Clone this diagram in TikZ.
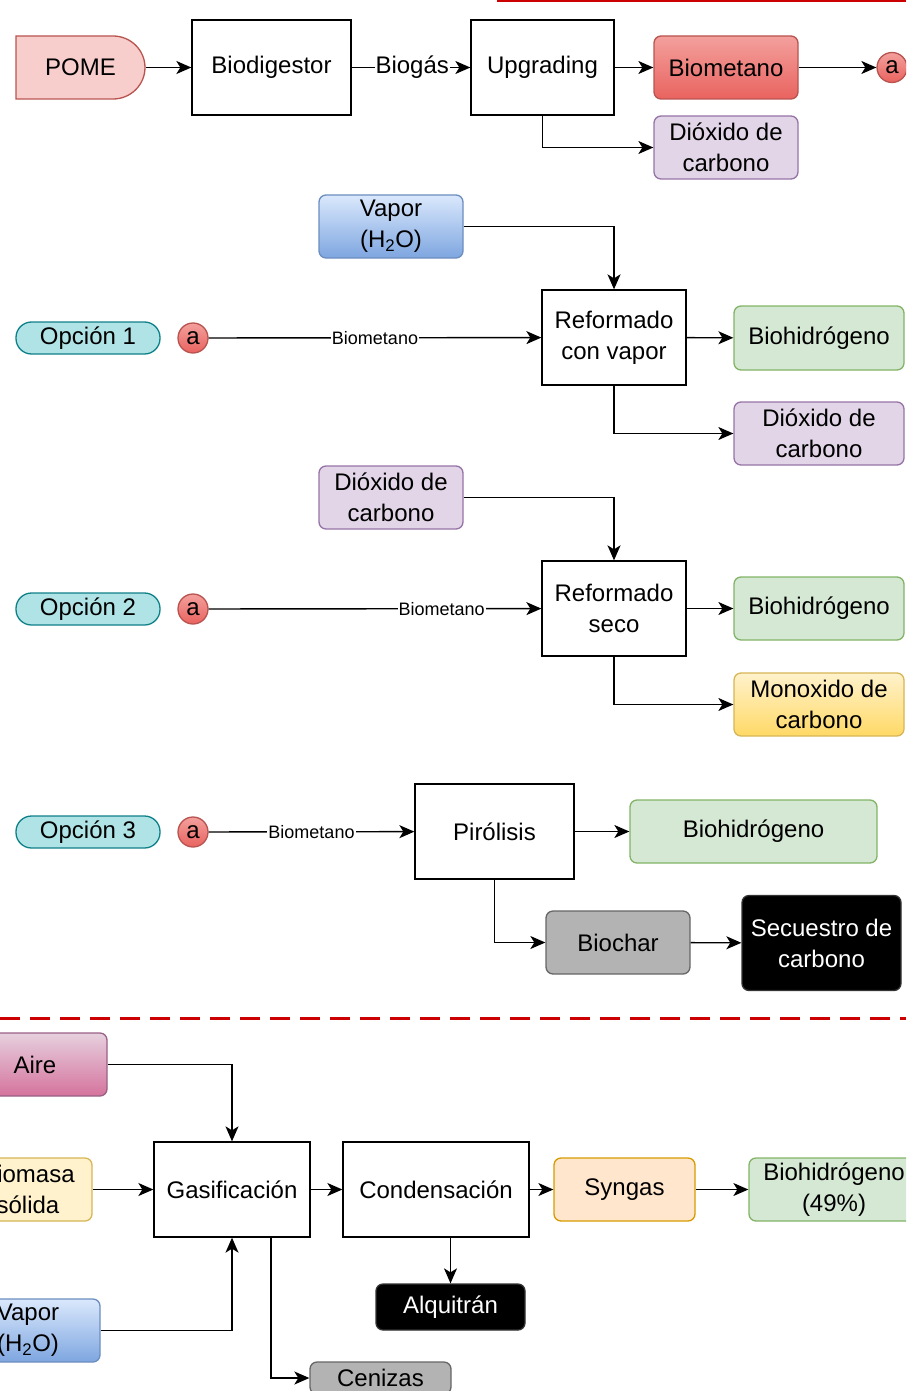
\documentclass[tikz,border=0pt]{standalone}
\usepackage{fontspec}
\setmainfont{Liberation Sans}
\usetikzlibrary{arrows.meta,calc}
\definecolor{pinkF}{HTML}{F8CECC}\definecolor{pinkS}{HTML}{B85450}
\definecolor{redT}{HTML}{F3A09D}\definecolor{redB}{HTML}{E9635F}
\definecolor{purF}{HTML}{E1D5E7}\definecolor{purS}{HTML}{9673A6}
\definecolor{bluT}{HTML}{DAE8FC}\definecolor{bluB}{HTML}{7EA6E0}\definecolor{bluS}{HTML}{6C8EBF}
\definecolor{tealF}{HTML}{B0E3E6}\definecolor{tealS}{HTML}{0E8088}
\definecolor{grnF}{HTML}{D5E8D4}\definecolor{grnS}{HTML}{82B366}
\definecolor{yelF}{HTML}{FFF2CC}\definecolor{yelB}{HTML}{FFD966}\definecolor{yelS}{HTML}{D6B656}
\definecolor{grayF}{HTML}{B3B3B3}\definecolor{grayS}{HTML}{666666}
\definecolor{oraF}{HTML}{FFE6CC}\definecolor{oraS}{HTML}{D79B00}
\definecolor{airT}{HTML}{E6D0DE}\definecolor{airB}{HTML}{D5739D}\definecolor{airS}{HTML}{996185}
\definecolor{lineR}{HTML}{CC0000}
\tikzset{
  base/.style={draw, line width=1.3pt, font=\fontsize{24}{31}\selectfont, align=center, inner sep=0pt},
  proc/.style={base, fill=white, draw=black},
  rbox/.style={base, rounded corners=7pt},
  pill/.style={base, rounded corners=15.5pt, fill=tealF, draw=tealS, minimum width=144, minimum height=32},
  acirc/.style={base, circle, minimum size=30, top color=redT, bottom color=redB, draw=pinkS},
  arr/.style={draw, line width=1.4pt, -{Stealth[length=15pt,width=13pt,inset=4pt]}},
  lbl/.style={fill=white, inner sep=1pt, font=\fontsize{18}{20}\selectfont},
  lblb/.style={fill=white, inner sep=1pt, font=\fontsize{24}{28}\selectfont},
  redline/.style={draw=lineR, line width=3pt}
}
\begin{document}
\begin{tikzpicture}[x=1pt,y=-1pt]
\clip (0,0) rectangle (906,1391);
% top red line
\draw[redline] (497,1) -- (906,1);
% ---- Row 0
\draw[line width=1.3pt, draw=pinkS, fill=pinkF] (16,36) -- (113,36) to[out=0,in=90] (145,67.5) to[out=-90,in=0] (113,99) -- (16,99) -- cycle;
\node[base, draw=none, minimum width=129, minimum height=63] (pome) at (80.5,67.5) {POME};
\node[proc, minimum width=159, minimum height=95] (biodig) at (271.5,67.5) {Biodigestor};
\node[proc, minimum width=143, minimum height=95] (upg) at (542.5,67.5) {Upgrading};
\node[rbox, minimum width=144, minimum height=63, top color=redT, bottom color=redB, draw=pinkS] (biomet) at (726,67.5) {Biometano};
\node[acirc] (a0) at (892,67.5) {a};
\node[rbox, minimum width=144, minimum height=63, fill=purF, draw=purS] (dio1) at (726,147.5) {Dióxido de\\carbono};
\draw[arr] (pome) -- (biodig);
\draw[arr] (biodig) -- node[lblb, pos=0.51] {Biogás} (upg);
\draw[arr] (upg) -- (biomet);
\draw[arr] (biomet) -- (a0);
\draw[arr] (upg.south) |- (dio1.west);
% ---- Option 1
\node[rbox, minimum width=144, minimum height=63, top color=bluT, bottom color=bluB, draw=bluS] (vap1) at (391,226.5) {Vapor\\(H\textsubscript{2}O)};
\node[pill] (op1) at (88,338) {Opción 1};
\node[acirc] (a1) at (193,338) {a};
\node[proc, minimum width=144, minimum height=95] (ref1) at (614,337.5) {Reformado\\con vapor};
\node[rbox, minimum width=170, minimum height=64, fill=grnF, draw=grnS] (bh1) at (819,338) {Biohidrógeno};
\node[rbox, minimum width=170, minimum height=63, fill=purF, draw=purS] (dio2) at (819,433.5) {Dióxido de\\carbono};
\draw[arr] (vap1.east) -| (ref1.north);
\draw[arr] (a1) -- node[lbl, pos=0.5] {Biometano} (ref1);
\draw[arr] (ref1) -- (bh1);
\draw[arr] (ref1.south) |- (dio2.west);
% ---- Option 2
\node[rbox, minimum width=144, minimum height=63, fill=purF, draw=purS] (dio3) at (391,497.5) {Dióxido de\\carbono};
\node[pill] (op2) at (88,609) {Opción 2};
\node[acirc] (a2) at (193,609) {a};
\node[proc, minimum width=144, minimum height=95] (ref2) at (614,608.5) {Reformado\\seco};
\node[rbox, minimum width=170, minimum height=63, fill=grnF, draw=grnS] (bh2) at (819,608.5) {Biohidrógeno};
\node[rbox, minimum width=170, minimum height=63, top color=yelF, bottom color=yelB, draw=yelS] (mono) at (819,704.5) {Monoxido de\\carbono};
\draw[arr] (dio3.east) -| (ref2.north);
\draw[arr] (a2) -- node[lbl, pos=0.70] {Biometano} (ref2);
\draw[arr] (ref2) -- (bh2);
\draw[arr] (ref2.south) |- (mono.west);
% ---- Option 3
\node[pill] (op3) at (88,832) {Opción 3};
\node[acirc] (a3) at (193,832) {a};
\node[proc, minimum width=159, minimum height=95] (pir) at (494.5,831.5) {Pirólisis};
\node[rbox, minimum width=247, minimum height=63, fill=grnF, draw=grnS] (bh3) at (753.5,831.5) {Biohidrógeno};
\node[rbox, minimum width=144, minimum height=63, fill=grayF, draw=grayS] (biochar) at (618,942.5) {Biochar};
\node[rbox, minimum width=159, minimum height=95, fill=black, draw=black!80, text=white] (secu) at (821.5,943) {Secuestro de\\carbono};
\draw[arr] (a3) -- node[lbl, pos=0.5] {Biometano} (pir);
\draw[arr] (pir) -- (bh3);
\draw[arr] (pir.south) |- (biochar.west);
\draw[arr] (biochar) -- (secu);
% ---- separator
\draw[redline, dash pattern=on 20pt off 10pt] (0,1018) -- (906,1018);
% ---- Gasification
\node[rbox, minimum width=144, minimum height=63, top color=airT, bottom color=airB, draw=airS] (aire) at (35,1064.5) {Aire};
\node[rbox, minimum width=128, minimum height=63, fill=yelF, draw=yelS] (biom) at (28,1189.5) {Biomasa\\sólida};
\node[rbox, minimum width=144, minimum height=63, top color=bluT, bottom color=bluB, draw=bluS] (vap2) at (28,1330.5) {Vapor\\(H\textsubscript{2}O)};
\node[proc, minimum width=156, minimum height=95] (gas) at (232,1189.5) {Gasificación};
\node[proc, minimum width=186, minimum height=95] (cond) at (436,1189.5) {Condensación};
\node[rbox, minimum width=141, minimum height=63, fill=oraF, draw=oraS] (syn) at (624.5,1189.5) {Syngas};
\node[rbox, minimum width=170, minimum height=63, fill=grnF, draw=grnS] (bh4) at (834,1189.5) {Biohidrógeno\\(49\%)};
\node[rbox, minimum width=149, minimum height=46, fill=black, draw=black!80, text=white] (alq) at (450.5,1307) {Alquitrán};
\node[rbox, minimum width=141, minimum height=32, fill=grayF, draw=grayS] (cen) at (380.5,1378) {Cenizas};
\draw[arr] (aire.east) -| (gas.north);
\draw[arr] (biom) -- (gas);
\draw[arr] (vap2.east) -| (gas.south);
\draw[arr] (gas) -- (cond);
\draw[arr] (cond) -- (syn);
\draw[arr] (syn) -- (bh4);
\draw[arr] (alq.north |- cond.south) -- (alq.north);
\draw[arr] ($(gas.south)+(39,0)$) |- (cen.west);
\end{tikzpicture}
\end{document}
